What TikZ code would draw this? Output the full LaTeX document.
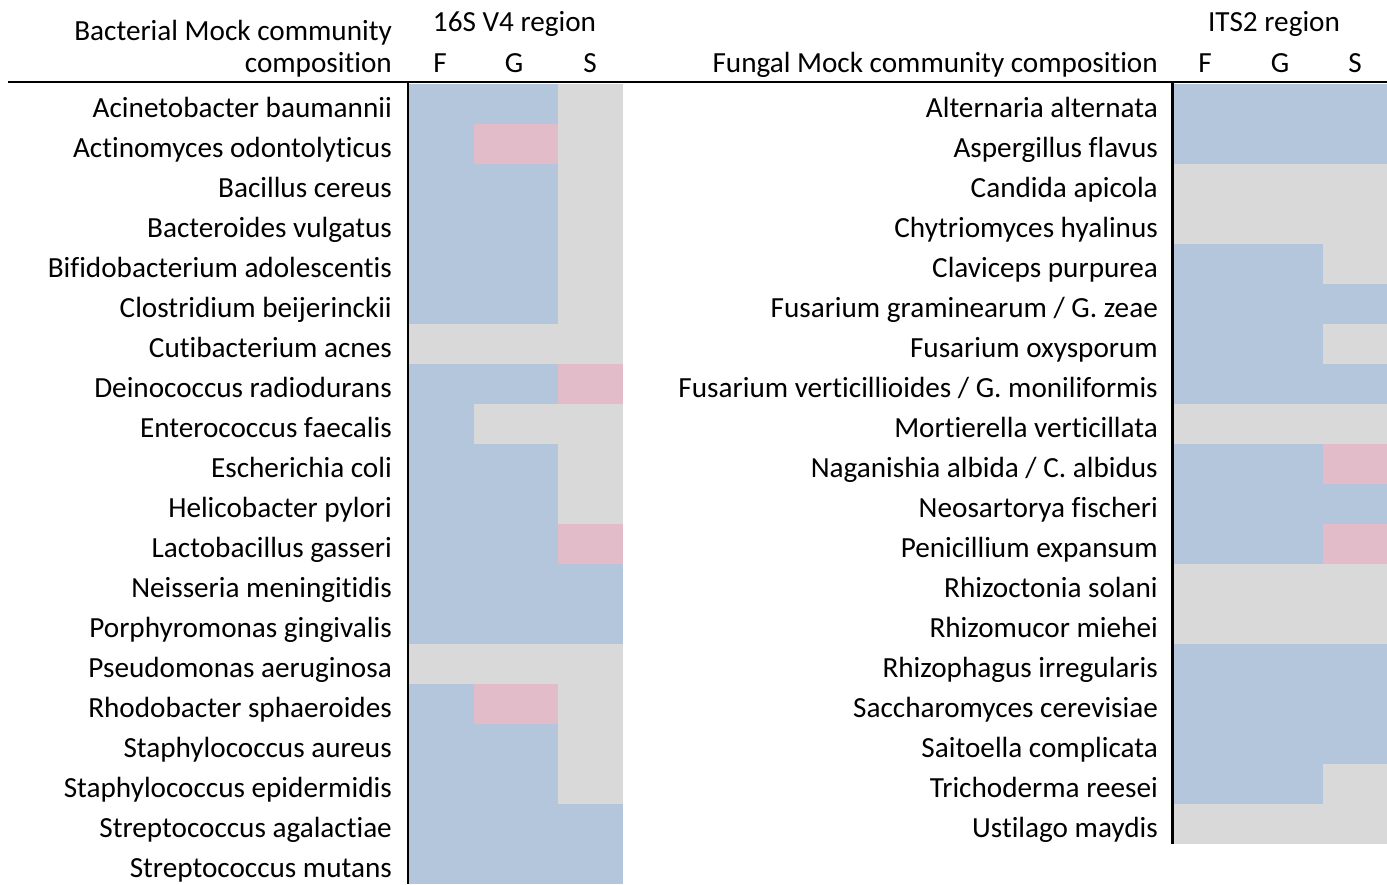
\documentclass[tikz,border=0pt]{standalone}
\usepackage{fontspec}
\setmainfont{Carlito}[Ligatures=NoCommon]
\definecolor{cB}{HTML}{B4C6DC}
\definecolor{cP}{HTML}{E2BCC8}
\definecolor{cY}{HTML}{D9D9D9}
\begin{document}
\begin{tikzpicture}[x=1pt,y=-1pt,
  every node/.style={font=\fontsize{29.2}{34}\selectfont, inner sep=0pt},
  lbl/.style={anchor=base east},
  hdr/.style={anchor=base},
  rule/.style={line width=2.6pt},
  vrule/.style={line width=2.2pt}]
\useasboundingbox (0,0) rectangle (1387,884);
% left table cells and labels
\foreach \n/\a/\b/\c [count=\i] in {
  Acinetobacter baumannii/B/B/Y,
  Actinomyces odontolyticus/B/P/Y,
  Bacillus cereus/B/B/Y,
  Bacteroides vulgatus/B/B/Y,
  Bifidobacterium adolescentis/B/B/Y,
  Clostridium beijerinckii/B/B/Y,
  Cutibacterium acnes/Y/Y/Y,
  Deinococcus radiodurans/B/B/P,
  Enterococcus faecalis/B/Y/Y,
  Escherichia coli/B/B/Y,
  Helicobacter pylori/B/B/Y,
  Lactobacillus gasseri/B/B/P,
  Neisseria meningitidis/B/B/B,
  Porphyromonas gingivalis/B/B/B,
  Pseudomonas aeruginosa/Y/Y/Y,
  Rhodobacter sphaeroides/B/P/Y,
  Staphylococcus aureus/B/B/Y,
  Staphylococcus epidermidis/B/B/Y,
  Streptococcus agalactiae/B/B/B,
  Streptococcus mutans/B/B/B}{
  \fill[c\a] (408,{84+40*(\i-1)}) rectangle (474,{84+40*\i});
  \fill[c\b] (474,{84+40*(\i-1)}) rectangle (558,{84+40*\i});
  \fill[c\c] (558,{84+40*(\i-1)}) rectangle (623,{84+40*\i});
  \node[lbl] (L\i) at (392,{84+40*\i-6.5}) {\n};
}
% right table cells and labels
\foreach \n/\a/\b/\c [count=\i] in {
  Alternaria alternata/B/B/B,
  Aspergillus flavus/B/B/B,
  Candida apicola/Y/Y/Y,
  Chytriomyces hyalinus/Y/Y/Y,
  Claviceps purpurea/B/B/Y,
  {Fusarium graminearum / G. zeae}/B/B/B,
  Fusarium oxysporum/B/B/Y,
  {Fusarium verticillioides / G. moniliformis}/B/B/B,
  Mortierella verticillata/Y/Y/Y,
  {Naganishia albida / C. albidus}/B/B/P,
  Neosartorya fischeri/B/B/B,
  Penicillium expansum/B/B/P,
  Rhizoctonia solani/Y/Y/Y,
  Rhizomucor miehei/Y/Y/Y,
  Rhizophagus irregularis/B/B/B,
  Saccharomyces cerevisiae/B/B/B,
  Saitoella complicata/B/B/B,
  Trichoderma reesei/B/B/Y,
  Ustilago maydis/Y/Y/Y}{
  \fill[c\a] (1172,{84+40*(\i-1)}) rectangle (1237,{84+40*\i});
  \fill[c\b] (1237,{84+40*(\i-1)}) rectangle (1323,{84+40*\i});
  \fill[c\c] (1323,{84+40*(\i-1)}) rectangle (1387,{84+40*\i});
  \node[lbl] (R\i) at (1158,{84+40*\i-6.5}) {\n};
}
% headers
\node[lbl] (bh1) at (392,40) {Bacterial Mock community};
\node[lbl] (bh2) at (392,72) {composition};
\node[hdr] (r16) at (514.5,31.5) {16S V4 region};
\node[hdr] (lF) at (440,72) {F};
\node[hdr] (lG) at (514,72) {G};
\node[hdr] (lS) at (590,72) {S};
\node[lbl] (fh) at (1158,72) {Fungal Mock community composition};
\node[hdr] (its) at (1274,31.5) {ITS2 region};
\node[hdr] (rF) at (1205,72) {F};
\node[hdr] (rG) at (1280,72) {G};
\node[hdr] (rS) at (1355,72) {S};
% rules
\draw[rule] (8,82) -- (1387,82);
\draw[vrule] (408,82) -- (408,884);
\draw[vrule] (1172.5,82) -- (1172.5,844);
\end{tikzpicture}
\end{document}
